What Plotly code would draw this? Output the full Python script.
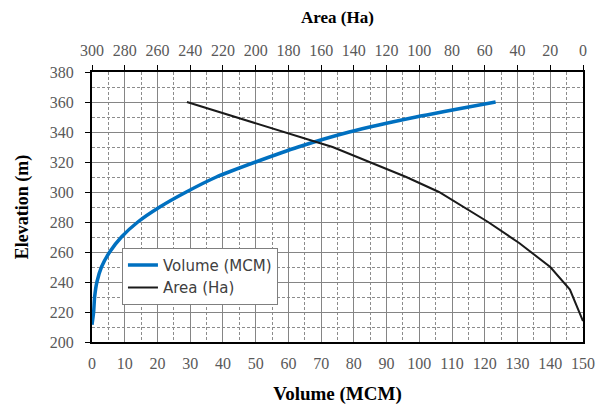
import plotly.graph_objects as go

# Reservoir elevation–volume–area relationship
elev_volume = [211.5, 220, 230, 240, 250, 260, 270, 280, 290, 300, 310, 320, 330, 340, 350, 360]
volume_mcm = [0, 0.5, 0.8, 1.5, 2.9, 5.4, 9.0, 14.0, 20.7, 28.8, 38.0, 50.0, 63.0, 78.6, 99.0, 123.3]

elev_area = [214, 235, 250, 260, 266, 280, 290, 300, 310, 320, 330, 333, 340, 350, 360]
area_ha = [0, 8, 20, 32, 39, 58, 73, 88, 108, 130, 153, 162, 183, 213, 242]

serif = "Liberation Serif, Times New Roman, serif"
sans = "DejaVu Sans, sans-serif"
tick_color = "#595959"

fig = go.Figure()
fig.add_trace(go.Scatter(
    x=volume_mcm, y=elev_volume, mode="lines", name="Volume (MCM)",
    line=dict(color="#0070C0", width=3.5, shape="spline", smoothing=0.6),
    xaxis="x", yaxis="y",
))
fig.add_trace(go.Scatter(
    x=area_ha, y=elev_area, mode="lines", name="Area (Ha)",
    line=dict(color="#1a1a1a", width=2),
    xaxis="x2", yaxis="y",
))

grid_major = "#858585"
grid_minor = "#8c8c8c"
minor_dash = "3px,2px"

fig.update_layout(
    width=604, height=405,
    margin=dict(l=92, r=21, t=72, b=63),
    paper_bgcolor="white", plot_bgcolor="white",
    showlegend=True,
    legend=dict(
        x=0.061, y=0.349, xanchor="left", yanchor="top",
        bgcolor="white", bordercolor="#7f7f7f", borderwidth=1,
        font=dict(family=sans, size=15, color="#404040"),
        itemwidth=30, tracegroupgap=0,
    ),
    xaxis=dict(
        range=[0, 150], dtick=10, tick0=0, automargin=False,
        showgrid=True, gridcolor=grid_major, gridwidth=1,
        minor=dict(dtick=5, showgrid=True, gridcolor=grid_minor, griddash=minor_dash, gridwidth=1),
        showline=True, linecolor="black", linewidth=2, mirror=False,
        ticks="", zeroline=False, ticklabelstandoff=6,
        tickfont=dict(family=serif, size=16, color=tick_color),
        title=dict(text="<b>Volume (MCM)</b>", font=dict(family=serif, size=19, color="black"), standoff=18),
    ),
    xaxis2=dict(
        range=[300, 0], dtick=20, tick0=0, automargin=False,
        overlaying="x", side="top", anchor="y",
        showgrid=False, zeroline=False,
        showline=True, linecolor="black", linewidth=2,
        ticks="outside", ticklen=5, tickcolor="black", ticklabelstandoff=3,
        tickfont=dict(family=serif, size=16, color=tick_color),
        title=dict(text="<b>Area (Ha)</b>", font=dict(family=serif, size=17, color="black"), standoff=14),
    ),
    yaxis=dict(
        range=[200, 380], dtick=20, tick0=200, automargin=False,
        showgrid=True, gridcolor=grid_major, gridwidth=1,
        minor=dict(dtick=10, showgrid=True, gridcolor=grid_minor, griddash=minor_dash, gridwidth=1),
        showline=True, linecolor="black", linewidth=2, mirror=True,
        ticks="outside", ticklen=5, tickcolor="black", ticklabelstandoff=8,
        zeroline=False,
        tickfont=dict(family=serif, size=16, color=tick_color),
        title=dict(text="<b>Elevation (m)</b>", font=dict(family=serif, size=18, color="black"), standoff=16),
    ),
)

fig.write_html("out.html")
